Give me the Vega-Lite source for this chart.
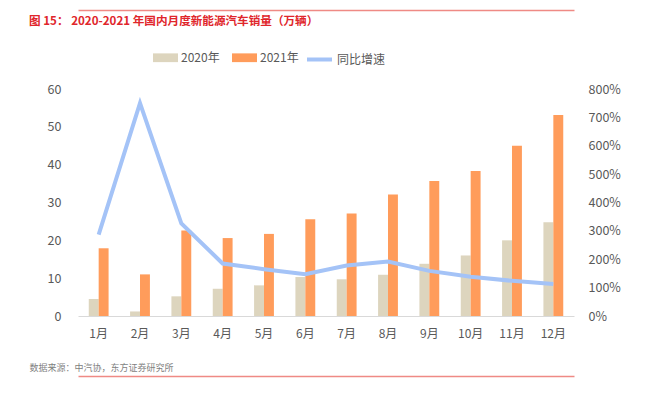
{
  "$schema": "https://vega.github.io/schema/vega-lite/v6.json",
  "width": 496,
  "height": 227,
  "autosize": {"type": "none"},
  "padding": {"left": 78, "top": 89, "right": 86, "bottom": 78},
  "background": "white",
  "config": {
    "view": {"stroke": null},
    "font": "Noto Sans CJK SC",
    "axis": {"grid": false, "ticks": false, "labelColor": "#595959", "labelFont": "Noto Sans CJK SC"},
    "legend": {"labelFont": "Noto Sans CJK SC"}
  },
  "title": {
    "text": "图 15：  2020-2021 年国内月度新能源汽车销量（万辆）",
    "anchor": "start",
    "frame": "group",
    "dx": -49,
    "dy": 22,
    "color": "#E0262B",
    "fontSize": 11.6,
    "fontWeight": "bold",
    "font": "Noto Sans CJK SC"
  },
  "datasets": {
    "sales": [
      {"month": "1月", "series": "2020年", "value": 4.5},
      {"month": "1月", "series": "2021年", "value": 17.9},
      {"month": "2月", "series": "2020年", "value": 1.2},
      {"month": "2月", "series": "2021年", "value": 11.0},
      {"month": "3月", "series": "2020年", "value": 5.2},
      {"month": "3月", "series": "2021年", "value": 22.6},
      {"month": "4月", "series": "2020年", "value": 7.2},
      {"month": "4月", "series": "2021年", "value": 20.6},
      {"month": "5月", "series": "2020年", "value": 8.1},
      {"month": "5月", "series": "2021年", "value": 21.7},
      {"month": "6月", "series": "2020年", "value": 10.3},
      {"month": "6月", "series": "2021年", "value": 25.6},
      {"month": "7月", "series": "2020年", "value": 9.7},
      {"month": "7月", "series": "2021年", "value": 27.1},
      {"month": "8月", "series": "2020年", "value": 10.9},
      {"month": "8月", "series": "2021年", "value": 32.1},
      {"month": "9月", "series": "2020年", "value": 13.8},
      {"month": "9月", "series": "2021年", "value": 35.7},
      {"month": "10月", "series": "2020年", "value": 16.0},
      {"month": "10月", "series": "2021年", "value": 38.3},
      {"month": "11月", "series": "2020年", "value": 20.0},
      {"month": "11月", "series": "2021年", "value": 45.0},
      {"month": "12月", "series": "2020年", "value": 24.8},
      {"month": "12月", "series": "2021年", "value": 53.1}
    ],
    "yoy": [
      {"month": "1月", "series": "同比增速", "yoy": 2.87},
      {"month": "2月", "series": "同比增速", "yoy": 7.50},
      {"month": "3月", "series": "同比增速", "yoy": 3.26},
      {"month": "4月", "series": "同比增速", "yoy": 1.85},
      {"month": "5月", "series": "同比增速", "yoy": 1.65},
      {"month": "6月", "series": "同比增速", "yoy": 1.47},
      {"month": "7月", "series": "同比增速", "yoy": 1.78},
      {"month": "8月", "series": "同比增速", "yoy": 1.92},
      {"month": "9月", "series": "同比增速", "yoy": 1.59},
      {"month": "10月", "series": "同比增速", "yoy": 1.38},
      {"month": "11月", "series": "同比增速", "yoy": 1.24},
      {"month": "12月", "series": "同比增速", "yoy": 1.13}
    ]
  },
  "layer": [
    {
      "data": {"name": "sales"},
      "mark": {"type": "bar"},
      "encoding": {
        "x": {
          "field": "month", "type": "nominal",
          "scale": {"domain": ["1月","2月","3月","4月","5月","6月","7月","8月","9月","10月","11月","12月"], "paddingInner": 0.52, "paddingOuter": 0.26},
          "axis": {"orient": "bottom", "title": null, "labelAngle": 0, "domainColor": "#D9D9D9", "labelFontSize": 12, "labelPadding": 12}
        },
        "xOffset": {"field": "series", "type": "nominal", "scale": {"domain": ["2020年", "2021年"]}},
        "y": {
          "field": "value", "type": "quantitative",
          "scale": {"domain": [0, 60]},
          "axis": {"title": null, "values": [0, 10, 20, 30, 40, 50, 60], "domain": false, "labelPadding": 17, "labelFontSize": 12.5}
        },
        "fill": {
          "field": "series", "type": "nominal",
          "scale": {"domain": ["2020年", "2021年"], "range": ["#DDD5BE", "#FF9C5B"]},
          "legend": {
            "title": null, "orient": "none", "legendX": 75, "legendY": -44, "direction": "horizontal",
            "symbolType": "M-1,-0.35H1V0.35H-1Z", "symbolSize": 625, "symbolStrokeWidth": 0,
            "labelFontSize": 12, "labelColor": "#595959", "labelOffset": 3, "columnPadding": 12
          }
        }
      }
    },
    {
      "data": {"name": "yoy"},
      "mark": {"type": "line", "strokeWidth": 4},
      "encoding": {
        "x": {
          "field": "month", "type": "nominal",
          "axis": {"orient": "top", "offset": 79, "labels": false, "title": null, "domainColor": "#EF8A85", "domainWidth": 1.5}
        },
        "y": {
          "field": "yoy", "type": "quantitative",
          "scale": {"domain": [0, 8]},
          "axis": {"orient": "right", "title": null, "format": ".0%", "values": [0, 1, 2, 3, 4, 5, 6, 7, 8], "domain": false, "labelPadding": 14, "labelFontSize": 12.5}
        },
        "stroke": {
          "field": "series", "type": "nominal",
          "scale": {"range": ["#A4C3F7"]},
          "legend": {
            "title": null, "orient": "none", "legendX": 227, "legendY": -44,
            "symbolType": "stroke", "symbolSize": 625, "symbolStrokeWidth": 4,
            "labelFontSize": 12, "labelColor": "#595959", "labelOffset": 3
          }
        }
      }
    },
    {
      "data": {"name": "yoy"},
      "mark": {"type": "point", "opacity": 0},
      "encoding": {
        "x": {
          "field": "month", "type": "nominal",
          "axis": {
            "orient": "bottom", "offset": 60, "labels": false, "domainColor": "#EF8A85", "domainWidth": 1.5,
            "title": "数据来源：中汽协，东方证券研究所", "titleX": -49, "titleY": -9, "titleAlign": "left",
            "titleBaseline": "middle", "titleFontSize": 9, "titleColor": "#7F7F7F", "titleFontWeight": "normal"
          }
        }
      }
    }
  ],
  "resolve": {"scale": {"y": "independent"}, "axis": {"x": "independent"}}
}
